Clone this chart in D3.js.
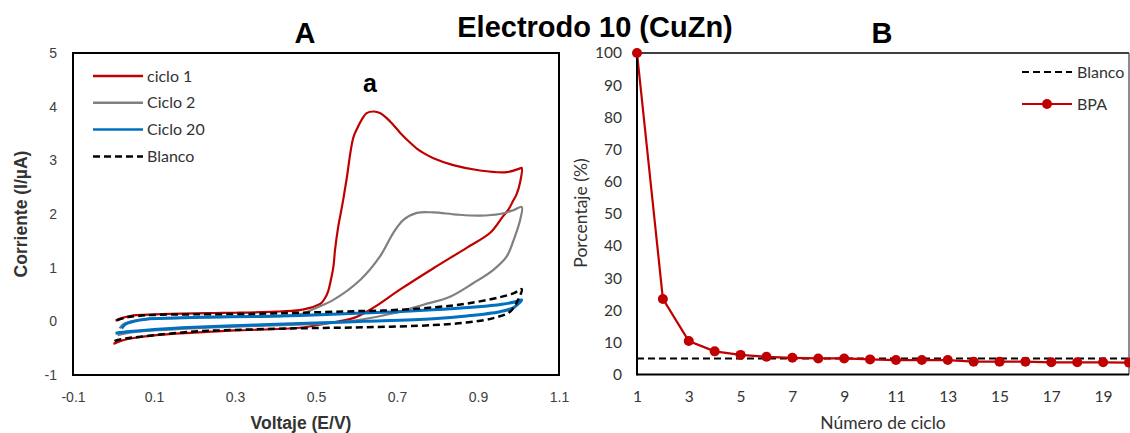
<!DOCTYPE html>
<html>
<head>
<meta charset="utf-8">
<script src="https://cdn.jsdelivr.net/npm/d3@7"></script>
<style>
  html, body { margin: 0; padding: 0; background: #fff; }
  svg { display: block; }
</style>
</head>
<body>
<svg id="chart" width="1130" height="433"></svg>
<script>
// ---- Panel A: cyclic voltammograms [potential (V), current (µA)] ----
const ciclo1 = [
  [0.005,0.01],[0.02,0.06],[0.05,0.11],[0.1,0.13],[0.2,0.15],[0.3,0.16],[0.4,0.18],[0.46,0.21],
  [0.485,0.25],[0.5,0.29],[0.513,0.34],[0.522,0.43],[0.53,0.56],[0.535,0.71],[0.543,1.02],
  [0.547,1.33],[0.555,1.77],[0.562,2.05],[0.568,2.3],[0.576,2.67],[0.592,3.42],[0.604,3.63],
  [0.613,3.76],[0.625,3.88],[0.643,3.91],[0.658,3.88],[0.674,3.79],[0.691,3.66],[0.707,3.52],
  [0.728,3.36],[0.749,3.22],[0.769,3.12],[0.79,3.04],[0.839,2.91],[0.905,2.81],[0.971,2.78],
  [1.004,2.85],[1.008,2.86],
  [1.004,2.59],[0.995,2.36],[0.987,2.25],[0.975,2.08],[0.962,1.96],[0.93,1.65],[0.872,1.37],
  [0.79,0.99],[0.707,0.59],[0.641,0.25],[0.592,0.06],[0.526,-0.04],[0.46,-0.12],[0.3,-0.17],
  [0.2,-0.21],[0.1,-0.26],[0.05,-0.31],[0.02,-0.36],[0.0,-0.42]
];
const ciclo2 = [
  [0.015,-0.13],[0.025,-0.05],[0.05,0.01],[0.1,0.05],[0.2,0.07],[0.35,0.09],[0.42,0.1],[0.46,0.13],
  [0.5,0.25],[0.543,0.4],[0.609,0.77],[0.658,1.21],[0.691,1.65],[0.716,1.89],[0.749,2.02],
  [0.79,2.03],[0.847,1.99],[0.905,1.97],[0.954,2.0],[0.987,2.07],[1.008,2.13],
  [1.004,1.89],[0.991,1.58],[0.971,1.21],[0.938,0.96],[0.888,0.71],[0.831,0.46],[0.765,0.31],
  [0.691,0.15],[0.609,0.03],[0.526,-0.04],[0.46,-0.06],[0.3,-0.1],[0.2,-0.13],[0.1,-0.17],
  [0.04,-0.21],[0.01,-0.26]
];
const ciclo20 = [
  [0.02,-0.13],[0.03,-0.05],[0.05,0.0],[0.08,0.04],[0.15,0.06],[0.25,0.08],[0.35,0.09],[0.46,0.11],
  [0.6,0.15],[0.7,0.18],[0.8,0.22],[0.9,0.27],[0.96,0.32],[0.99,0.36],[1.008,0.4],
  [1.0,0.33],[0.987,0.25],[0.954,0.18],[0.872,0.1],[0.79,0.05],[0.62,0.0],[0.46,-0.04],
  [0.35,-0.07],[0.2,-0.11],[0.1,-0.15],[0.04,-0.19],[0.005,-0.22]
];
const blancoCV = [
  [0.008,0.02],[0.03,0.07],[0.06,0.1],[0.1,0.12],[0.2,0.13],[0.35,0.14],[0.46,0.16],[0.6,0.19],
  [0.666,0.2],[0.79,0.26],[0.872,0.33],[0.954,0.45],[0.99,0.53],[1.008,0.6],
  [0.999,0.4],[0.979,0.18],[0.938,0.06],[0.872,-0.02],[0.79,-0.07],[0.624,-0.11],[0.46,-0.13],
  [0.3,-0.16],[0.2,-0.19],[0.074,-0.28],[0.03,-0.32],[0.005,-0.36],[0.0,-0.38]
];
const voltTicks = [-0.1, 0.1, 0.3, 0.5, 0.7, 0.9, 1.1];
const currentTicks = [-1, 0, 1, 2, 3, 4, 5];

// ---- Panel B: signal percentage per cycle ----
const ciclos = [1,2,3,4,5,6,7,8,9,10,11,12,13,14,15,16,17,18,19,20];
const bpa = [100,23.5,10.4,7.2,6.1,5.5,5.2,5.0,5.0,4.7,4.5,4.5,4.5,4.0,4.0,4.0,3.8,3.8,3.8,3.7];
const blancoPct = 5;
const cicloTicks = [1,3,5,7,9,11,13,15,17,19];
const pctTicks = [0,10,20,30,40,50,60,70,80,90,100];

const RED = "#C00000", GRAY = "#808080", BLUE = "#0070C0";
const ARIAL = "'Liberation Sans', Arial, sans-serif";
const CALI = "Lato, 'Open Sans', sans-serif";

const svg = d3.select("#chart");
svg.append("rect").attr("width", 1130).attr("height", 433).attr("fill", "#fff");

// ================= Panel A =================
const A = { left: 73, right: 559, top: 53, bottom: 375 };
const xA = d3.scaleLinear().domain([-0.1, 1.1]).range([A.left, A.right]);
const yA = d3.scaleLinear().domain([-1, 5]).range([A.bottom, A.top]);

const gA = svg.append("g");

gA.append("g")
  .attr("transform", `translate(0,${A.bottom})`)
  .call(d3.axisBottom(xA).tickValues(voltTicks).tickSize(0).tickPadding(17)
        .tickFormat(d => d3.format(".1f")(d).replace("−", "-")))
  .call(g => g.select(".domain").remove())
  .selectAll("text").attr("font-family", ARIAL).attr("font-size", 14).attr("fill", "#404040");

gA.append("g")
  .attr("transform", `translate(${A.left},0)`)
  .call(d3.axisLeft(yA).tickValues(currentTicks).tickSize(0).tickPadding(16)
        .tickFormat(d => d3.format("d")(d).replace("−", "-")))
  .call(g => g.select(".domain").remove())
  .selectAll("text").attr("font-family", ARIAL).attr("font-size", 14).attr("fill", "#404040");

const lineA = d3.line().x(d => xA(d[0])).y(d => yA(d[1])).curve(d3.curveCatmullRom.alpha(0.5));

gA.append("path").datum(ciclo1).attr("d", lineA).attr("fill", "none")
  .attr("stroke", RED).attr("stroke-width", 2.2).attr("stroke-linejoin", "round");
gA.append("path").datum(ciclo2).attr("d", lineA).attr("fill", "none")
  .attr("stroke", GRAY).attr("stroke-width", 2.2).attr("stroke-linejoin", "round");
gA.append("path").datum(ciclo20).attr("d", lineA).attr("fill", "none")
  .attr("stroke", BLUE).attr("stroke-width", 3).attr("stroke-linejoin", "round");
gA.append("path").datum(blancoCV).attr("d", lineA).attr("fill", "none")
  .attr("stroke", "#000").attr("stroke-width", 2.5).attr("stroke-dasharray", "7,4");

gA.append("rect").attr("x", A.left).attr("y", A.top)
  .attr("width", A.right - A.left).attr("height", A.bottom - A.top)
  .attr("fill", "none").attr("stroke", "#000").attr("stroke-width", 2);

// legend
const legA = [
  { name: "ciclo 1", color: RED, w: 2.5, dash: null },
  { name: "Ciclo 2", color: GRAY, w: 2.5, dash: null },
  { name: "Ciclo 20", color: BLUE, w: 2.5, dash: null },
  { name: "Blanco", color: "#000", w: 2.5, dash: "7,4" }
];
legA.forEach((d, i) => {
  const y = 76 + i * 26.8;
  gA.append("line").attr("x1", 93).attr("x2", 143).attr("y1", y).attr("y2", y)
    .attr("stroke", d.color).attr("stroke-width", d.w).attr("stroke-dasharray", d.dash);
  gA.append("text").attr("x", 147).attr("y", y + 5.5).text(d.name)
    .attr("font-family", CALI).attr("font-size", 16).attr("fill", "#333");
});

gA.append("text").attr("x", 370).attr("y", 92).attr("text-anchor", "middle").text("a")
  .attr("font-family", ARIAL).attr("font-weight", "bold").attr("font-size", 25);
gA.append("text").attr("x", 305).attr("y", 43).attr("text-anchor", "middle").text("A")
  .attr("font-family", ARIAL).attr("font-weight", "bold").attr("font-size", 29);

gA.append("text").attr("x", 301).attr("y", 429).attr("text-anchor", "middle").text("Voltaje (E/V)")
  .attr("font-family", ARIAL).attr("font-weight", "bold").attr("font-size", 17.5).attr("fill", "#333");
gA.append("text").attr("transform", "translate(27,214) rotate(-90)").attr("text-anchor", "middle")
  .text("Corriente (I/µA)")
  .attr("font-family", ARIAL).attr("font-weight", "bold").attr("font-size", 17.5).attr("fill", "#333");

// ================= Panel B =================
const B = { left: 637, right: 1129, top: 53, bottom: 374.5 };
const xB = d3.scaleLinear().domain([1, 20]).range([B.left, B.right]);
const yB = d3.scaleLinear().domain([0, 100]).range([B.bottom, B.top]);

const gB = svg.append("g");

gB.append("g")
  .attr("transform", `translate(0,${B.bottom})`)
  .call(d3.axisBottom(xB).tickValues(cicloTicks).tickSize(0).tickPadding(16).tickFormat(d3.format("d")))
  .call(g => g.select(".domain").remove())
  .selectAll("text").attr("font-family", CALI).attr("font-size", 15.5).attr("fill", "#333");

gB.append("g")
  .attr("transform", `translate(${B.left},0)`)
  .call(d3.axisLeft(yB).tickValues(pctTicks).tickSize(0).tickPadding(15).tickFormat(d3.format("d")))
  .call(g => g.select(".domain").remove())
  .selectAll("text").attr("font-family", CALI).attr("font-size", 15.5).attr("fill", "#333");

// frame: top and right thin, left and bottom axes heavier
gB.append("line").attr("x1", B.left).attr("x2", B.right).attr("y1", B.top).attr("y2", B.top)
  .attr("stroke", "#000").attr("stroke-width", 1.5);
gB.append("line").attr("x1", B.right).attr("x2", B.right).attr("y1", B.top).attr("y2", B.bottom)
  .attr("stroke", "#404040").attr("stroke-width", 1.2);

// blank reference level
gB.append("line").attr("x1", xB(1)).attr("x2", xB(20)).attr("y1", yB(blancoPct)).attr("y2", yB(blancoPct))
  .attr("stroke", "#000").attr("stroke-width", 2).attr("stroke-dasharray", "7,4");

const bpaData = ciclos.map((c, i) => [c, bpa[i]]);
gB.append("path").datum(bpaData)
  .attr("d", d3.line().x(d => xB(d[0])).y(d => yB(d[1])))
  .attr("fill", "none").attr("stroke", RED).attr("stroke-width", 2.2);

gB.append("line").attr("x1", B.left).attr("x2", B.left).attr("y1", B.top).attr("y2", B.bottom + 1)
  .attr("stroke", "#000").attr("stroke-width", 2);
gB.append("line").attr("x1", B.left).attr("x2", B.right).attr("y1", B.bottom).attr("y2", B.bottom)
  .attr("stroke", "#000").attr("stroke-width", 2);

gB.selectAll("circle.pt").data(bpaData).enter().append("circle").attr("class", "pt")
  .attr("cx", d => xB(d[0])).attr("cy", d => yB(d[1])).attr("r", 5).attr("fill", RED);

// legend
gB.append("line").attr("x1", 1022).attr("x2", 1072).attr("y1", 72).attr("y2", 72)
  .attr("stroke", "#000").attr("stroke-width", 2).attr("stroke-dasharray", "7,4");
gB.append("text").attr("x", 1077).attr("y", 77.5).text("Blanco")
  .attr("font-family", CALI).attr("font-size", 16).attr("fill", "#333");
gB.append("line").attr("x1", 1022).attr("x2", 1072).attr("y1", 104).attr("y2", 104)
  .attr("stroke", RED).attr("stroke-width", 2.2);
gB.append("circle").attr("cx", 1047).attr("cy", 104).attr("r", 5).attr("fill", RED);
gB.append("text").attr("x", 1077).attr("y", 109.5).text("BPA")
  .attr("font-family", CALI).attr("font-size", 16).attr("fill", "#333");

gB.append("text").attr("x", 882).attr("y", 43).attr("text-anchor", "middle").text("B")
  .attr("font-family", ARIAL).attr("font-weight", "bold").attr("font-size", 29);
gB.append("text").attr("x", 883).attr("y", 429).attr("text-anchor", "middle").text("Número de ciclo")
  .attr("font-family", CALI).attr("font-size", 17.5).attr("fill", "#333");
gB.append("text").attr("transform", "translate(587,213) rotate(-90)").attr("text-anchor", "middle")
  .text("Porcentaje (%)")
  .attr("font-family", CALI).attr("font-size", 17.5).attr("fill", "#333");

// main title
svg.append("text").attr("x", 595).attr("y", 37).attr("text-anchor", "middle").text("Electrodo 10 (CuZn)")
  .attr("font-family", ARIAL).attr("font-weight", "bold").attr("font-size", 29);
</script>
</body>
</html>
